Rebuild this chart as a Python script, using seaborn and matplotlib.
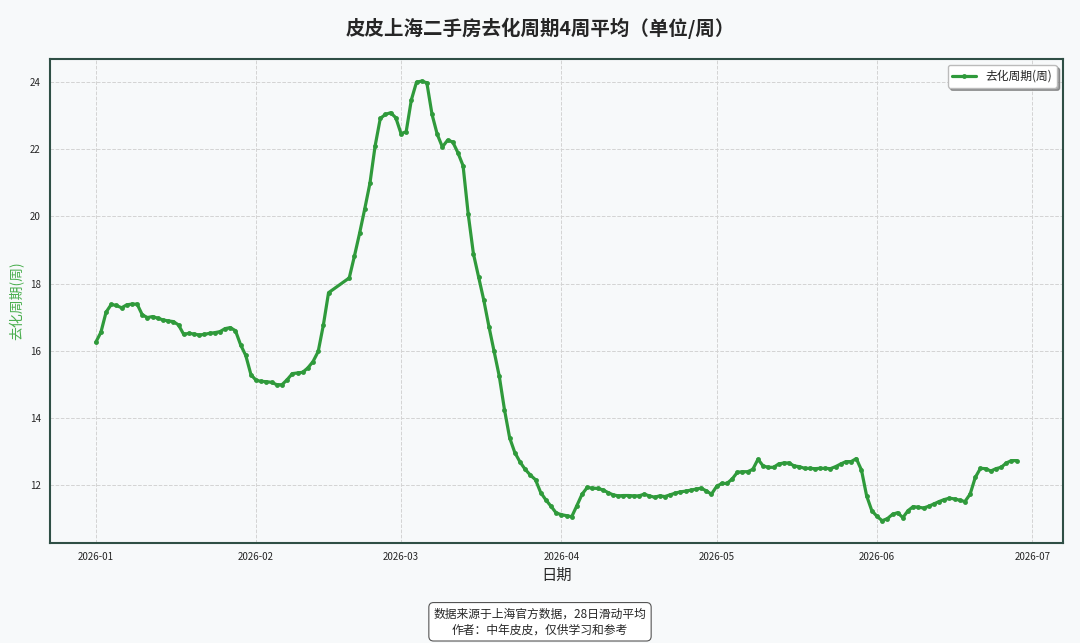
import pandas as pd
import matplotlib
matplotlib.use("Agg")
import matplotlib.pyplot as plt
import matplotlib.dates as mdates
import seaborn as sns

# 去化周期数据（28日滑动平均），2月16-18日无数据
jan = [16.25, 16.55, 17.15, 17.38, 17.35, 17.28, 17.37, 17.39, 17.39, 17.07,
       16.99, 17.02, 16.97, 16.92, 16.89, 16.87, 16.77, 16.49, 16.52, 16.50,
       16.47, 16.49, 16.52, 16.54, 16.57, 16.66, 16.69, 16.60, 16.18, 15.86, 15.29]
feb = [15.12, 15.09, 15.08, 15.06, 14.99, 14.99, 15.14, 15.32, 15.34, 15.36,
       15.49, 15.68, 15.98, 16.77, 17.73,
       18.17, 18.82, 19.50, 20.23, 20.99, 22.10, 22.92, 23.04, 23.09, 22.94]
mar = [22.47, 22.52, 23.47, 24.00, 24.03, 23.98, 23.04, 22.45, 22.07, 22.27,
       22.22, 21.90, 21.51, 20.06, 18.89, 18.20, 17.51, 16.72, 15.98, 15.24,
       14.25, 13.41, 12.97, 12.69, 12.47, 12.30, 12.16, 11.78, 11.56, 11.37, 11.17]
apr = [11.12, 11.09, 11.06, 11.39, 11.73, 11.93, 11.91, 11.90, 11.86, 11.78,
       11.71, 11.68, 11.69, 11.69, 11.68, 11.68, 11.73, 11.68, 11.64, 11.68,
       11.66, 11.71, 11.76, 11.80, 11.82, 11.85, 11.88, 11.91, 11.83, 11.73]
may = [11.96, 12.05, 12.05, 12.18, 12.38, 12.40, 12.40, 12.47, 12.77, 12.57,
       12.53, 12.53, 12.63, 12.66, 12.66, 12.57, 12.55, 12.50, 12.50, 12.49,
       12.50, 12.50, 12.49, 12.55, 12.63, 12.70, 12.70, 12.79, 12.45, 11.68, 11.24]
jun = [11.07, 10.94, 11.00, 11.13, 11.18, 11.03, 11.24, 11.36, 11.34, 11.32,
       11.37, 11.44, 11.51, 11.57, 11.61, 11.59, 11.55, 11.51, 11.73, 12.23,
       12.50, 12.49, 12.42, 12.49, 12.53, 12.66, 12.73, 12.73]
missing_days = ["2026-02-16", "2026-02-17", "2026-02-18"]

dates = pd.date_range("2026-01-01", "2026-06-28", freq="D")
dates = dates[~dates.isin(pd.to_datetime(missing_days))]
df = pd.DataFrame({"日期": dates, "去化周期": jan + feb + mar + apr + may + jun})

sns.set_style("whitegrid")
plt.rcParams["font.family"] = ["Noto Sans CJK SC", "DejaVu Sans"]
plt.rcParams["axes.unicode_minus"] = False

bg = "#f7f9fa"
fig = plt.figure(figsize=(10.8, 6.43), dpi=100, facecolor=bg)
ax = fig.add_axes([0.046, 0.156, 0.938, 0.752])
ax.set_facecolor(bg)

sns.lineplot(data=df, x="日期", y="去化周期", ax=ax, color="#2f9a3b", linewidth=2.3,
             marker="o", markersize=3.5, markeredgewidth=0, label="去化周期(周)")

ax.grid(True, linestyle="--", color="#d3d3d3", linewidth=0.7)
for s in ax.spines.values():
    s.set_color("#2f4f45")
    s.set_linewidth(1.5)

ax.xaxis.set_major_locator(mdates.MonthLocator())
ax.xaxis.set_major_formatter(mdates.DateFormatter("%Y-%m"))
ax.tick_params(axis="both", labelsize=7, length=3, color="#333333")

ax.set_xlabel("日期", fontsize=11)
ax.set_ylabel("去化周期(周)", fontsize=10, color="#4caf50")
fig.suptitle("皮皮上海二手房去化周期4周平均（单位/周）", fontsize=14, fontweight="bold", y=0.972)

leg = ax.legend(loc="upper right", fontsize=8.5, frameon=True, shadow=True, fancybox=True)
leg.get_frame().set_facecolor("white")
leg.get_frame().set_edgecolor("#bbbbbb")

fig.text(0.5, 0.033, "数据来源于上海官方数据，28日滑动平均\n作者：中年皮皮，仅供学习和参考",
         ha="center", va="center", fontsize=8.5, linespacing=1.3,
         bbox=dict(boxstyle="round,pad=0.4", facecolor="white", edgecolor="#555555", linewidth=0.8))

fig.savefig("out.png", dpi=100, facecolor=bg)
